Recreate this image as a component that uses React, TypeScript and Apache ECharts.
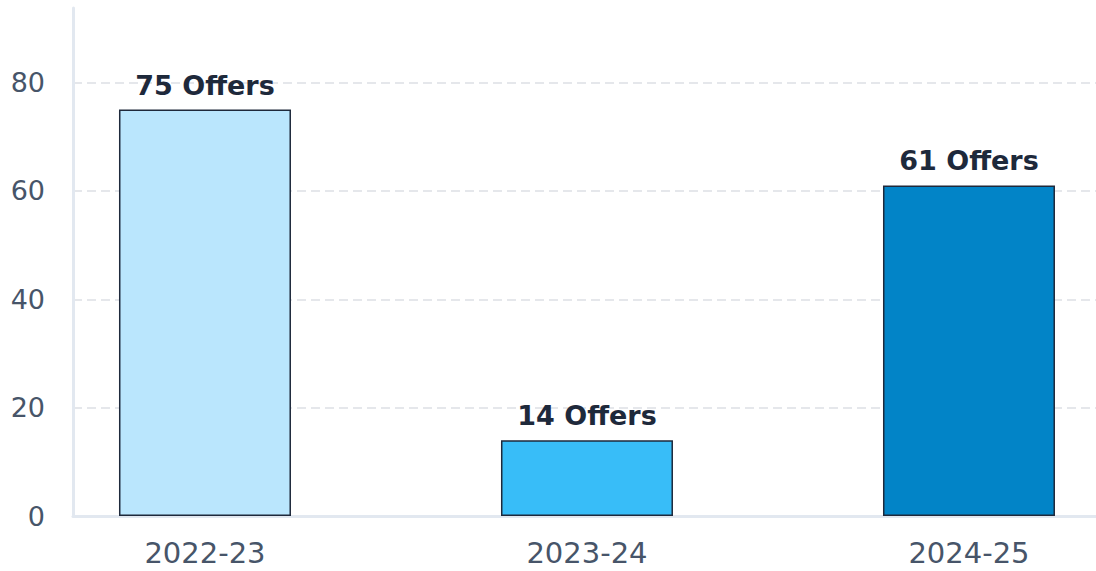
import React, { useEffect, useRef } from "react";
import * as echarts from "echarts";

const categories = ["2022-23", "2023-24", "2024-25"];
const offers = [75, 14, 61];
const barColors = ["#bae6fd", "#38bdf8", "#0284c7"];
const yTicks = [0, 20, 40, 60, 80];

export default function App() {
  const ref = useRef<HTMLDivElement>(null);
  useEffect(() => {
    if (!ref.current) return;
    const chart = echarts.init(ref.current, undefined, { renderer: "svg" });
    const font = "DejaVu Sans";
    chart.setOption({
      animation: false,
      grid: { left: 73, right: 0, top: 8, bottom: 55, containLabel: false },
      xAxis: {
        type: "value",
        min: -0.3455,
        max: 2.3325,
        splitLine: { show: false },
        axisLine: { show: true, onZero: false, lineStyle: { color: "#e2e8f0", width: 3 } },
        axisTick: { show: false },
        axisLabel: {
          customValues: categories.map((_, i) => i),
          formatter: (v: number) => categories[Math.round(v)] ?? "",
          color: "#475569",
          fontSize: 29,
          fontFamily: font,
          margin: 22,
        },
      },
      yAxis: {
        type: "value",
        min: 0,
        max: 93.75,
        interval: 20,
        axisLine: { show: true, onZero: false, lineStyle: { color: "#e2e8f0", width: 3 } },
        axisTick: { show: false },
        axisLabel: {
          customValues: yTicks,
          color: "#475569",
          fontSize: 27,
          fontFamily: font,
          margin: 28,
        },
        splitLine: {
          show: true,
          showMinLine: false,
          showMaxLine: false,
          lineStyle: { color: "#e5e7eb", width: 2, type: [9, 5] },
        },
      },
      series: [
        {
          type: "bar",
          barWidth: 172,
          data: offers.map((v, i) => ({
            value: [i, v],
            itemStyle: { color: barColors[i], borderColor: "#1e293b", borderWidth: 1.5 },
          })),
          label: {
            show: true,
            position: "top",
            distance: 11,
            formatter: (p: any) => `${p.value[1]} Offers`,
            color: "#1e293b",
            fontSize: 27,
            fontWeight: "bold",
            fontFamily: font,
          },
        },
      ],
    });
    return () => chart.dispose();
  }, []);
  return <div ref={ref} style={{ position: "absolute", left: 0, top: 0, width: 1096, height: 571 }} />;
}
